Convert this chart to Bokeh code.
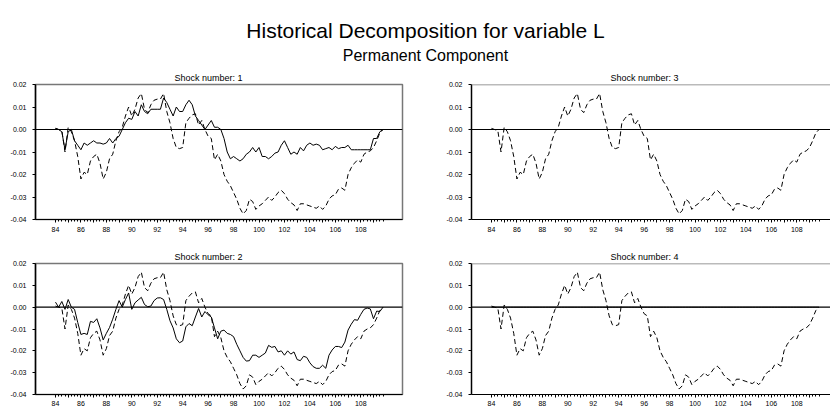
from bokeh.plotting import figure
from bokeh.models import Span, FixedTicker, NumeralTickFormatter, Range1d, ColumnDataSource
from bokeh.layouts import column, row
from bokeh.embed import file_html
from bokeh.resources import INLINE

FONT = "Liberation Sans"

# quarterly observations 1984Q1 - 2009Q4, years counted from 1900 like the axis
quarters = [84 + i / 4 for i in range(104)]

# dashed line, drawn in every panel
permanent = [
    0.0005, 0.000, -0.0005, -0.010, 0.001, -0.001, -0.005, -0.012, -0.022, -0.019,
    -0.020, -0.014, -0.012, -0.011, -0.015, -0.022, -0.019, -0.013, -0.011, -0.005,
    -0.001, 0.001, 0.006, 0.010, 0.006, 0.009, 0.014, 0.016, 0.009, 0.0075,
    0.011, 0.013, 0.0135, 0.0135, 0.016, 0.008, 0.003, -0.004, -0.008, -0.0085,
    -0.008, 0.003, 0.005, 0.0065, 0.007, 0.002, 0.004, 0.000, -0.003, -0.004,
    -0.0135, -0.011, -0.014, -0.020, -0.023, -0.025, -0.028, -0.031, -0.035, -0.0375,
    -0.036, -0.031, -0.032, -0.0355, -0.034, -0.033, -0.0315, -0.030, -0.0315, -0.030,
    -0.028, -0.027, -0.0285, -0.031, -0.0325, -0.0335, -0.036, -0.033, -0.033, -0.0335,
    -0.034, -0.0345, -0.035, -0.034, -0.0355, -0.034, -0.031, -0.0295, -0.029, -0.0265,
    -0.026, -0.027, -0.020, -0.017, -0.015, -0.0135, -0.0145, -0.011, -0.010, -0.0095,
    -0.008, -0.005, -0.0015, 0.000,
]

shock1 = [
    0.0005, 0.000, -0.001, -0.009, -0.001, 0.000, -0.005, -0.007, -0.009, -0.006,
    -0.007, -0.006, -0.005, -0.006, -0.006, -0.0065, -0.006, -0.004, -0.006, -0.004,
    -0.003, 0.000, 0.003, 0.005, 0.0045, 0.008, 0.006, 0.011, 0.008, 0.007,
    0.009, 0.009, 0.009, 0.009, 0.014, 0.012, 0.009, 0.006, 0.010, 0.008,
    0.008, 0.011, 0.013, 0.011, 0.006, 0.004, 0.002, 0.000, 0.002, 0.004,
    0.001, 0.001, 0.000, -0.004, -0.010, -0.013, -0.012, -0.013, -0.014, -0.013,
    -0.011, -0.010, -0.008, -0.010, -0.008, -0.012, -0.012, -0.013, -0.012, -0.0105,
    -0.010, -0.007, -0.005, -0.008, -0.011, -0.010, -0.011, -0.008, -0.0095, -0.007,
    -0.006, -0.007, -0.0065, -0.007, -0.009, -0.0085, -0.008, -0.009, -0.0075, -0.0085,
    -0.008, -0.008, -0.007, -0.009, -0.009, -0.009, -0.009, -0.009, -0.009, -0.009,
    -0.004, -0.004, -0.001, 0.000,
]

shock2 = [
    0.0023, 0.000, 0.0026, -0.001, 0.0035, 0.000, -0.001, -0.007, -0.0125, -0.012,
    -0.0125, -0.0065, -0.007, -0.0053, -0.0095, -0.015, -0.012, -0.0093, -0.0055, -0.001,
    0.003, 0.000, 0.0035, 0.0065, -0.001, 0.002, 0.0033, 0.0045, 0.0012, 0.0002,
    0.0005, 0.003, 0.0042, 0.0043, 0.0035, -0.001, -0.0062, -0.0095, -0.0145, -0.0163,
    -0.0155, -0.009, -0.0075, -0.0085, -0.0045, -0.0006, -0.0045, -0.002, -0.0035, -0.0045,
    -0.0095, -0.0145, -0.011, -0.0105, -0.012, -0.0125, -0.0135, -0.017, -0.020, -0.023,
    -0.0247, -0.0245, -0.022, -0.022, -0.023, -0.022, -0.021, -0.0175, -0.0184, -0.018,
    -0.0205, -0.020, -0.022, -0.020, -0.0215, -0.0205, -0.024, -0.0245, -0.0225, -0.023,
    -0.0255, -0.0272, -0.028, -0.028, -0.0266, -0.028, -0.022, -0.0196, -0.018, -0.018,
    -0.0185, -0.016, -0.0105, -0.0078, -0.0057, -0.006, -0.0033, -0.001, -0.0004, -0.0008,
    -0.0053, -0.0018, -0.002, 0.000,
]

shock3 = [0.0] * 104
shock4 = [0.0] * 104

year_ticks = list(range(84, 110))
y_ticks = [-0.04, -0.03, -0.02, -0.01, 0.0, 0.01, 0.02]


def panel(number, contribution, left_side, top_row):
    if left_side:
        width, border_left, border_right, x_end = 415, 35, 13, 111.28
    else:
        width, border_left, border_right, x_end = 415, 56, 0, 110.65
    if top_row:
        border_top, frame_h, border_bottom, standoff = 20, 135, 23, 4
    else:
        border_top, frame_h, border_bottom, standoff = 21, 131, 14, 3

    p = figure(width=width, height=border_top + frame_h + border_bottom,
               x_range=Range1d(82.43, x_end), y_range=Range1d(-0.04, 0.02),
               output_backend="svg", toolbar_location=None,
               min_border_left=border_left, min_border_right=border_right,
               min_border_top=border_top, min_border_bottom=border_bottom,
               background_fill_color="white", border_fill_color="white")
    p.xgrid.visible = False
    p.ygrid.visible = False

    p.title.text = f"Shock number: {number}"
    p.title.text_font = FONT
    p.title.text_font_size = "9px"
    p.title.text_font_style = "normal"
    p.title.text_color = "black"
    p.title.align = "left"
    p.title.offset = 139
    p.title.standoff = 4

    if left_side:
        p.outline_line_color = "#777777"
        p.outline_line_width = 1.5
    else:
        p.outline_line_color = None
        p.add_layout(Span(location=0.02, dimension="width",
                          line_color="#777777", line_width=1.5))

    p.add_layout(Span(location=0, dimension="width", line_color="black", line_width=1.2))

    src = ColumnDataSource(dict(t=quarters, total=permanent, shock=contribution))
    p.line("t", "total", source=src, line_color="black", line_width=1, line_dash="5 3")
    p.line("t", "shock", source=src, line_color="black", line_width=1)

    xa = p.xaxis[0]
    xa.ticker = FixedTicker(ticks=year_ticks, minor_ticks=quarters)
    xa.major_label_overrides = {y: "" for y in year_ticks if y % 2}
    xa.major_tick_in = 0
    xa.major_tick_out = 3
    xa.minor_tick_in = 0
    xa.minor_tick_out = 2
    xa.major_label_standoff = standoff
    xa.axis_line_color = "black"
    xa.axis_line_width = 1.2

    ya = p.yaxis[0]
    ya.ticker = FixedTicker(ticks=y_ticks, minor_ticks=[])
    ya.formatter = NumeralTickFormatter(format="0.00")
    ya.major_tick_in = 0
    ya.major_tick_out = 3
    ya.major_label_standoff = 6
    ya.axis_line_color = "black"
    ya.axis_line_width = 1.5

    for ax in (xa, ya):
        ax.major_label_text_font = FONT
        ax.major_label_text_font_size = "7px"
        ax.major_label_text_color = "black"
        ax.major_tick_line_color = "black"
        ax.minor_tick_line_color = "black"
    return p


head = figure(width=830, height=64, x_range=Range1d(0, 830), y_range=Range1d(64, 0),
              output_backend="svg", toolbar_location=None, min_border=0,
              outline_line_color=None, background_fill_color="white",
              border_fill_color="white")
head.axis.visible = False
head.grid.visible = False
head.text(x=[425], y=[30], text=["Historical Decomposition for variable L"],
          text_font_size="21px", text_align="center", text_baseline="alphabetic",
          text_color="black", text_font={"value": FONT})
head.text(x=[425], y=[55], text=["Permanent Component"],
          text_font_size="16px", text_align="center", text_baseline="alphabetic",
          text_color="black", text_font={"value": FONT})

p1 = panel(1, shock1, True, True)
p3 = panel(3, shock3, False, True)
p2 = panel(2, shock2, True, False)
p4 = panel(4, shock4, False, False)

layout = column(head, row(p1, p3), row(p2, p4))

open("out.html", "w").write(file_html(layout, INLINE))
